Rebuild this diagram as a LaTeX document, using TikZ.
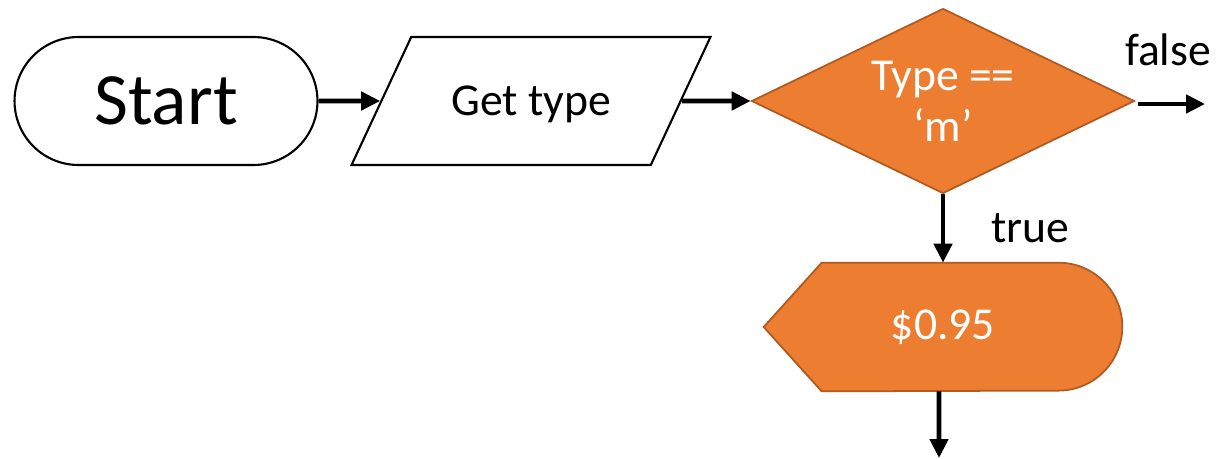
\documentclass[tikz,border=0pt]{standalone}
\usepackage{fontspec}
\setmainfont{Carlito}
\usetikzlibrary{arrows.meta,shapes.geometric}
\definecolor{accent}{HTML}{ED7D31}
\definecolor{accentline}{HTML}{AE5A21}
\tikzstyle{terminal}=[draw, line width=1.2pt, rounded corners=1.28cm, minimum width=6.06cm, minimum height=2.56cm, inner sep=0pt, font=\fontsize{42}{50}\selectfont]
\tikzstyle{io}=[draw, line width=1.2pt, trapezium, trapezium left angle=65, trapezium right angle=115, trapezium stretches body=true, minimum width=7.18cm, text height=1.57cm, text depth=0.99cm, inner sep=0pt, font=\fontsize{26}{31}\selectfont]
\tikzstyle{decision}=[diamond, aspect=2, draw=accentline, fill=accent, line width=1pt, minimum width=7.66cm, minimum height=3.7cm, inner sep=0pt, align=center, text=white, font=\fontsize{26}{31}\selectfont]
\tikzstyle{display}=[draw=accentline, fill=accent, line width=1pt]
\tikzstyle{label}=[font=\fontsize{26}{31}\selectfont]
\tikzstyle{flow}=[line width=2.6pt, -{Triangle[length=0.38cm, width=0.36cm]}]

\begin{document}
\begin{tikzpicture}[x=0.02cm, y=-0.02cm]
\useasboundingbox (0,0) rectangle (1219,459);
\node[terminal] (start) at (166,101) {Start};
\node[io] (gettype) at (531,101) {Get type};
\node[decision] (cond) at (943,101) {Type ==\\[-2pt]`m'};
% display shape for the price
\node[minimum width=7.16cm, minimum height=2.56cm, inner sep=0pt] (price) at (943,327) {};
\draw[display] (price.west) -- ([xshift=1.16cm]price.north west)
    -- ([xshift=-1.28cm]price.north east) arc[start angle=90, end angle=-90, radius=1.28cm]
    -- ([xshift=1.16cm]price.south west) -- cycle;
\node[text=white, font=\fontsize{26}{31}\selectfont] (pricetext) at (price.center) {\$0.95};
\coordinate (falseend) at (1205,104);
\coordinate (priceend) at (939,458);
\node[label] (falselabel) at (1168,50) {false};
\node[label] (truelabel) at (1030,228) {true};
\draw[flow] (start) -- (gettype);
\draw[flow] (gettype) -- (cond);
\draw[flow] ([shift={(3,3)}]cond.east) -- (falseend);
\draw[flow] (cond.south) -- (price.north);
\draw[flow] ([xshift=-0.08cm]price.south) -- (priceend);
\end{tikzpicture}
\end{document}
